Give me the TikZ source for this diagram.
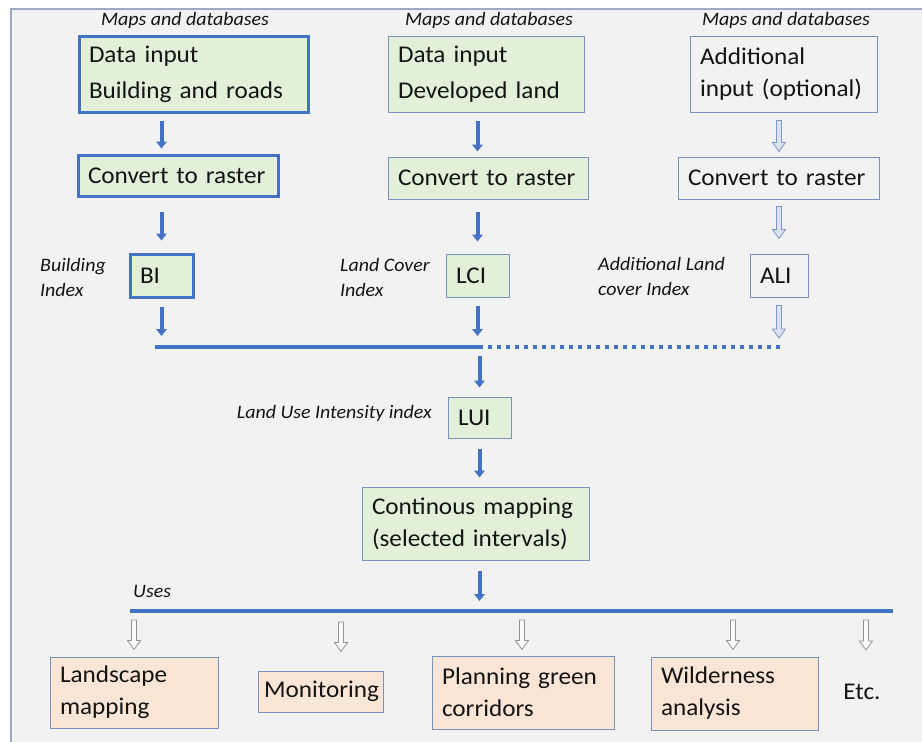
\documentclass[tikz,border=0pt]{standalone}
\usepackage{fontspec}
\setmainfont{Carlito}[FakeStretch=1.05]
\usetikzlibrary{arrows.meta,calc}
\definecolor{bgcol}{HTML}{F2F2F2}
\definecolor{framecol}{HTML}{9AAAC4}
\definecolor{arrowblue}{HTML}{4472C4}
\definecolor{thinblue}{HTML}{7892BE}
\definecolor{greenfill}{HTML}{E2F0D9}
\definecolor{orangefill}{HTML}{FBE5D6}
\definecolor{hollowfill}{HTML}{DAE3F3}
\definecolor{hollowline}{HTML}{7F96C0}
\definecolor{textcol}{HTML}{141414}
\newcommand\boxfont{\fontsize{24}{32}\selectfont}
\newcommand\lblfont{\itshape\fontsize{19}{25}\selectfont}
\newcommand\hollowarrow[3][hollow]{%
  \draw[#1] let \p1=(#2), \p2=(#3) in (\x1-2.5pt,\y1) -- (\x1-2.5pt,\y2+9pt) -- (\x1-6.5pt,\y2+9pt) -- (\x1,\y2)
    -- (\x1+6.5pt,\y2+9pt) -- (\x1+2.5pt,\y2+9pt) -- (\x1+2.5pt,\y1) -- cycle;}
\begin{document}
\begin{tikzpicture}[
            x=1pt, y=-1pt,
            box/.style={draw=thinblue, line width=1pt, inner xsep=10pt, inner ysep=0pt, align=left, font=\boxfont, text=textcol},
            thickbox/.style={box, draw=arrowblue, line width=3pt},
            green/.style={fill=greenfill},
            usebox/.style={box, fill=orangefill},
            lbl/.style={font=\lblfont, inner sep=0pt, align=left, text=textcol},
            flow/.style={draw=arrowblue, line width=4pt, -{Triangle[width=10.5pt,length=7pt]}},
            bus/.style={draw=arrowblue, line width=4pt},
            hollow/.style={draw=hollowline, fill=hollowfill, line width=0.8pt},
            hollowgray/.style={draw=gray!85, fill=white!60!bgcol, line width=0.8pt}
        ]
            \useasboundingbox (0,0) rectangle (922,742);
            \fill [white] (0,0) rectangle (922,742);
            \fill [bgcol] (11,9) rectangle (922,742);
            \draw [framecol,line width=1.2pt] (922,9) -- (11,9) -- (11,742);

            \node [lbl] (md1) at (185,20) {Maps and databases};
            \node [lbl] (md2) at (489,20) {Maps and databases};
            \node [lbl] (md3) at (786,20) {Maps and databases};

            \node [thickbox,green,text width=209pt,minimum height=76pt] (in1) at (193.5,74) {Data input\\[4pt]Building and roads};
            \node [thickbox,green,text width=180pt,minimum height=41pt] (cv1) at (178,175.5) {Convert to raster};
            \node [thickbox,green,text width=43pt,minimum height=43pt] (bi) at (161.5,275.5) {BI};
            \node [lbl,anchor=west] (bil) at (40,277) {Building\\Index};

            \node [box,green,text width=176pt,minimum height=76pt] (in2) at (486,74) {Data input\\[4pt]Developed land};
            \node [box,green,text width=180pt,minimum height=42pt] (cv2) at (488,178) {Convert to raster};
            \node [box,green,text width=43pt,minimum height=43pt] (lci) at (477.5,275.5) {LCI};
            \node [lbl,anchor=west] (lcl) at (340,277) {Land Cover\\Index};

            \node [box,text width=167pt,minimum height=76pt] (in3) at (783.5,74) {Additional\\input (optional)};
            \node [box,text width=181pt,minimum height=42pt] (cv3) at (778.5,178) {Convert to raster};
            \node [box,text width=38pt,minimum height=43pt] (ali) at (779,275.5) {ALI};
            \node [lbl,anchor=west] (all) at (598,276) {Additional Land\\cover Index};

            \coordinate (bus1w) at (155,347);
            \coordinate (bus1m) at (483,347);
            \coordinate (bus1e) at (781,347);
            \draw [bus] (bus1w) -- (bus1m);
            \draw [bus,dash pattern=on 4pt off 5pt] ([xshift=5pt]bus1m) -- (bus1e);

            \node [box,green,text width=43pt,minimum height=41pt] (lui) at (479.5,417.5) {LUI};
            \node [lbl,anchor=east] (luil) at (432,413) {Land Use Intensity index};
            \node [box,green,text width=207pt,minimum height=73pt] (map) at (475.5,523.5) {Continous mapping\\(selected intervals)};

            \node [lbl,anchor=west] (uses) at (133,591) {Uses};
            \coordinate (bus2w) at (130,611);
            \coordinate (bus2e) at (893,611);
            \draw [bus] (bus2w) -- (bus2e);
            \coordinate (u1) at (134,611);
            \coordinate (u2) at (341,611);
            \coordinate (u3) at (522,611);
            \coordinate (u4) at (733,611);
            \coordinate (u5) at (866,611);

            \node [usebox,text width=148pt,minimum height=71pt] (lsc) at (134,692.5) {Landscape\\mapping};
            \node [usebox,inner xsep=6pt,text width=113pt,minimum height=41pt] (mon) at (320.5,691.5) {Monitoring};
            \node [usebox,text width=162pt,minimum height=73pt] (pgc) at (523,692.5) {Planning green\\corridors};
            \node [usebox,text width=147pt,minimum height=73pt] (wil) at (734.5,693.5) {Wilderness\\analysis};
            \node [font=\boxfont,text=textcol] (etc) at (862,692) {Etc.};

            \draw [flow,shorten <=7pt,shorten >=5pt] (in1.south -| bi) -- (cv1.north -| bi);
            \draw [flow,shorten <=14pt,shorten >=12pt] (cv1.south -| bi) -- (bi.north);
            \draw [flow,shorten <=8pt,shorten >=11pt] (bi.south) -- (bi.south |- bus1w);
            \draw [flow,shorten <=8pt,shorten >=5pt] (in2.south -| lci) -- (cv2.north -| lci);
            \draw [flow,shorten <=12pt,shorten >=12pt] (cv2.south -| lci) -- (lci.north);
            \draw [flow,shorten <=8pt,shorten >=11pt] (lci.south) -- (lci.south |- bus1w);
            \draw [flow,shorten <=9pt,shorten >=9pt] (lui.north |- bus1w) -- (lui.north);
            \draw [flow,shorten <=10pt,shorten >=9pt] (lui.south) -- (map.north -| lui);
            \draw [flow,shorten <=10pt,shorten >=10pt] (map.south -| lui) -- (lui |- bus2w);

            \hollowarrow{$(in3.south -| ali)+(0,8)$}{$(cv3.north -| ali)+(0,-5)$}
            \hollowarrow{$(cv3.south -| ali)+(0,7)$}{$(ali.north)+(0,-15)$}
            \hollowarrow{$(ali.south)+(0,8)$}{$(bus1e)+(0,-9)$}
            \hollowarrow[hollowgray]{$(u1)+(0,9)$}{$(lsc.north -| u1)+(0,-7)$}
            \hollowarrow[hollowgray]{$(u2)+(0,11)$}{$(mon.north -| u2)+(0,-19)$}
            \hollowarrow[hollowgray]{$(u3)+(0,9)$}{$(pgc.north -| u3)+(0,-6)$}
            \hollowarrow[hollowgray]{$(u4)+(0,9)$}{$(wil.north -| u4)+(0,-7)$}
            \hollowarrow[hollowgray]{$(u5)+(0,9)$}{$(u5)+(0,39)$}
        \end{tikzpicture}
\end{document}
